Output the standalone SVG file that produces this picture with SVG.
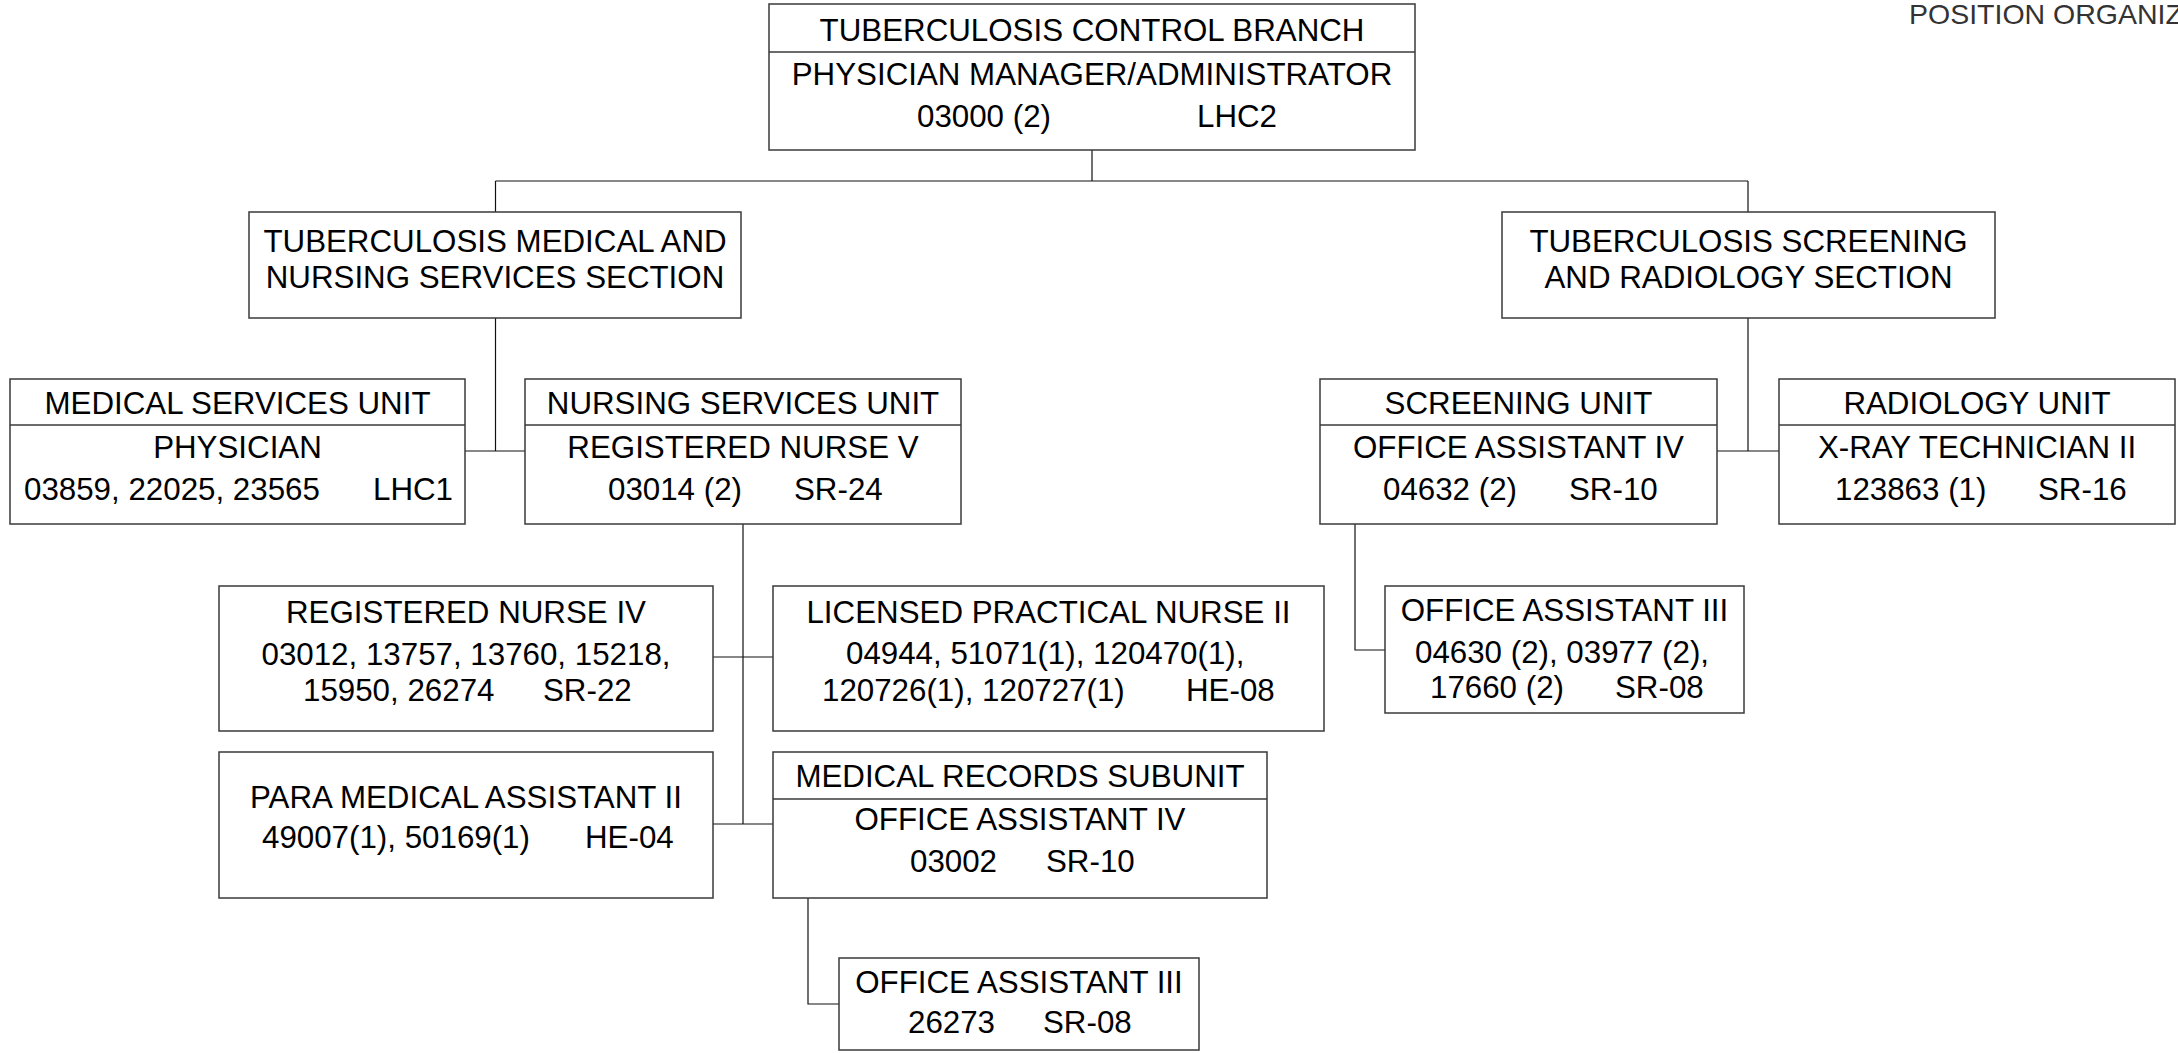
<svg xmlns="http://www.w3.org/2000/svg" width="2178" height="1053" viewBox="0 0 2178 1053">
<style>
  .box { fill: #ffffff; stroke: #3a3a3a; stroke-width: 1.5; }
  .div { stroke: #3a3a3a; stroke-width: 1.5; }
  .conn { fill: none; stroke: #111111; stroke-width: 1.2; }
  text { font-family: "Liberation Sans", Arial, sans-serif; font-size: 31.3px; fill: #000000; }
  .c { text-anchor: middle; }
  .hdr { font-size: 28.5px; fill: #333333; }
</style>
<rect x="0" y="0" width="2178" height="1053" fill="#ffffff"/>
<text class="hdr" x="1909" y="24">POSITION ORGANIZ</text>

<g id="connectors">
  <path class="conn" d="M1092,150 V181"/>
  <path class="conn" d="M495.5,181 H1748"/>
  <path class="conn" d="M495.5,181 V212"/>
  <path class="conn" d="M1748,181 V212"/>
  <path class="conn" d="M495.5,318 V451"/>
  <path class="conn" d="M465,451 H525"/>
  <path class="conn" d="M1748,318 V451"/>
  <path class="conn" d="M1717,451 H1779"/>
  <path class="conn" d="M743,524 V824"/>
  <path class="conn" d="M713,657 H773"/>
  <path class="conn" d="M713,824 H773"/>
  <path class="conn" d="M1355,524 V650 H1385"/>
  <path class="conn" d="M808,898 V1004 H839"/>
</g>

<g id="branch">
  <rect class="box" x="769" y="4" width="646" height="146"/>
  <line class="div" x1="769" y1="52" x2="1415" y2="52"/>
  <text class="c" x="1092" y="41">TUBERCULOSIS CONTROL BRANCH</text>
  <text class="c" x="1092" y="85">PHYSICIAN MANAGER/ADMINISTRATOR</text>
  <text x="917" y="127">03000 (2)</text>
  <text x="1197" y="127">LHC2</text>
</g>

<g id="med-nursing-section">
  <rect class="box" x="249" y="212" width="492" height="106"/>
  <text class="c" x="495" y="252">TUBERCULOSIS MEDICAL AND</text>
  <text class="c" x="495" y="288">NURSING SERVICES SECTION</text>
</g>

<g id="screening-radiology-section">
  <rect class="box" x="1502" y="212" width="493" height="106"/>
  <text class="c" x="1748.5" y="252">TUBERCULOSIS SCREENING</text>
  <text class="c" x="1748.5" y="288">AND RADIOLOGY SECTION</text>
</g>

<g id="medical-services-unit">
  <rect class="box" x="10" y="379" width="455" height="145"/>
  <line class="div" x1="10" y1="425" x2="465" y2="425"/>
  <text class="c" x="237.5" y="414">MEDICAL SERVICES UNIT</text>
  <text class="c" x="237.5" y="458">PHYSICIAN</text>
  <text x="24" y="500">03859, 22025, 23565</text>
  <text x="373" y="500">LHC1</text>
</g>

<g id="nursing-services-unit">
  <rect class="box" x="525" y="379" width="436" height="145"/>
  <line class="div" x1="525" y1="425" x2="961" y2="425"/>
  <text class="c" x="743" y="414">NURSING SERVICES UNIT</text>
  <text class="c" x="743" y="458">REGISTERED NURSE V</text>
  <text x="608" y="500">03014 (2)</text>
  <text x="794" y="500">SR-24</text>
</g>

<g id="screening-unit">
  <rect class="box" x="1320" y="379" width="397" height="145"/>
  <line class="div" x1="1320" y1="425" x2="1717" y2="425"/>
  <text class="c" x="1518.5" y="414">SCREENING UNIT</text>
  <text class="c" x="1518.5" y="458">OFFICE ASSISTANT IV</text>
  <text x="1383" y="500">04632 (2)</text>
  <text x="1569" y="500">SR-10</text>
</g>

<g id="radiology-unit">
  <rect class="box" x="1779" y="379" width="396" height="145"/>
  <line class="div" x1="1779" y1="425" x2="2175" y2="425"/>
  <text class="c" x="1977" y="414">RADIOLOGY UNIT</text>
  <text class="c" x="1977" y="458">X-RAY TECHNICIAN II</text>
  <text x="1835" y="500">123863 (1)</text>
  <text x="2038" y="500">SR-16</text>
</g>

<g id="registered-nurse-iv">
  <rect class="box" x="219" y="586" width="494" height="145"/>
  <text class="c" x="466" y="623">REGISTERED NURSE IV</text>
  <text class="c" x="466" y="665">03012, 13757, 13760, 15218,</text>
  <text x="303" y="701">15950, 26274</text>
  <text x="543" y="701">SR-22</text>
</g>

<g id="licensed-practical-nurse-ii">
  <rect class="box" x="773" y="586" width="551" height="145"/>
  <text class="c" x="1048.5" y="623">LICENSED PRACTICAL NURSE II</text>
  <text x="846" y="664">04944, 51071(1), 120470(1),</text>
  <text x="822" y="701">120726(1), 120727(1)</text>
  <text x="1186" y="701">HE-08</text>
</g>

<g id="para-medical-assistant-ii">
  <rect class="box" x="219" y="752" width="494" height="146"/>
  <text class="c" x="466" y="808">PARA MEDICAL ASSISTANT II</text>
  <text x="262" y="848">49007(1), 50169(1)</text>
  <text x="585" y="848">HE-04</text>
</g>

<g id="medical-records-subunit">
  <rect class="box" x="773" y="752" width="494" height="146"/>
  <line class="div" x1="773" y1="799" x2="1267" y2="799"/>
  <text class="c" x="1020" y="787">MEDICAL RECORDS SUBUNIT</text>
  <text class="c" x="1020" y="830">OFFICE ASSISTANT IV</text>
  <text x="910" y="872">03002</text>
  <text x="1046" y="872">SR-10</text>
</g>

<g id="office-assistant-iii-screening">
  <rect class="box" x="1385" y="586" width="359" height="127"/>
  <text class="c" x="1564.5" y="621">OFFICE ASSISTANT III</text>
  <text x="1415" y="663">04630 (2), 03977 (2),</text>
  <text x="1430" y="698">17660 (2)</text>
  <text x="1615" y="698">SR-08</text>
</g>

<g id="office-assistant-iii-records">
  <rect class="box" x="839" y="958" width="360" height="92"/>
  <text class="c" x="1019" y="993">OFFICE ASSISTANT III</text>
  <text x="908" y="1033">26273</text>
  <text x="1043" y="1033">SR-08</text>
</g>
</svg>
